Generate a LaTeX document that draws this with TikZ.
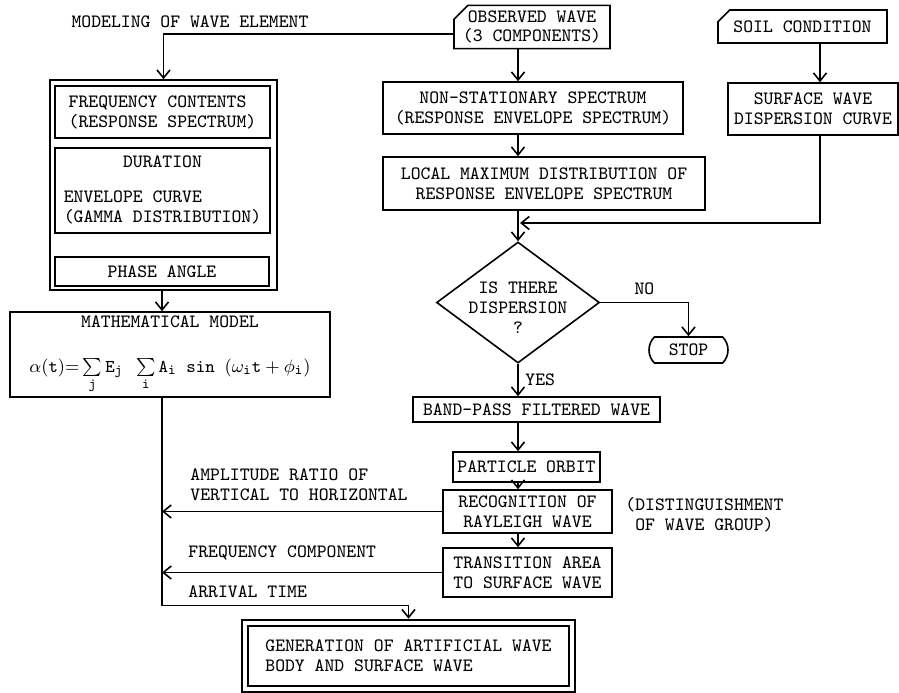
\documentclass[tikz,border=0pt]{standalone}
\usepackage{amsmath}
\usepackage{tikz}
\usetikzlibrary{positioning,arrows.meta}
\usetikzlibrary{shapes.geometric,shapes.misc}

\begin{document}
\begin{tikzpicture}[x=0.5pt,y=-0.5pt,>={Straight Barb[length=4pt,width=6.5pt]},line width=0.8pt,
  font=\fontsize{9.4pt}{10pt}\selectfont\ttfamily,
  box/.style={draw,rectangle,inner sep=0pt,align=center},
  card/.style={draw,chamfered rectangle,chamfered rectangle corners=north west,
    chamfered rectangle xsep=4pt,inner sep=0pt,align=center},
  decision/.style={draw,diamond,inner sep=0pt},
  stopbox/.style={draw,rounded rectangle,rounded rectangle arc length=90,inner sep=0pt}]
  \useasboundingbox (0,0) rectangle (899,692);
  \coordinate (axis) at (518,0);
  \coordinate (saxis) at (820,0);
  \coordinate (vline) at (162,0);

  % modeling of wave element
  \node (model) at (190,22) {MODELING OF WAVE ELEMENT};
  \node[box,minimum width=113.5pt,minimum height=105pt] (elem) at (163.5,185) {};
  \node[box,minimum width=107.5pt,minimum height=26pt,align=left] (freq) at (162.5,112)
    {FREQUENCY CONTENTS\\(RESPONSE SPECTRUM)};
  \node[box,minimum width=107.5pt,minimum height=42.5pt] (dur) at (162.5,190.5)
    {\begin{tabular}{@{}l@{}}\multicolumn{1}{@{}c@{}}{DURATION}\\[7.5pt]
     ENVELOPE CURVE\\(GAMMA DISTRIBUTION)\end{tabular}};
  \node[box,minimum width=107pt,minimum height=14.5pt] (phase) at (162,271.5) {PHASE ANGLE};
  \node[box,minimum width=160pt,minimum height=42.5pt] (math) at (170,354.5)
    {MATHEMATICAL MODEL\\[12.5pt]
     $\alpha(\mathtt{t})\mathtt{=}\sum\limits_{\mathtt{j}}\mathtt{E_j}\ \sum\limits_{\mathtt{i}}\mathtt{A_i}\
      \mathtt{sin}\ (\omega_{\mathtt{i}}\mathtt{t}+\phi_{\mathtt{i}})$};

  % observed wave column
  \node[card,minimum width=78pt,minimum height=17.5pt] (obs) at (532,27)
    {OBSERVED WAVE\\[-0.8pt](3 COMPONENTS)};
  \node[card,minimum width=84.5pt,minimum height=16.5pt] (soil) at (802.5,26.5) {SOIL CONDITION};
  \node[box,minimum width=150pt,minimum height=26pt] (nonstat) at (533,108)
    {NON-STATIONARY SPECTRUM\\(RESPONSE ENVELOPE SPECTRUM)};
  \node[box,minimum width=161pt,minimum height=26.5pt] (locmax) at (544,183.5)
    {LOCAL MAXIMUM DISTRIBUTION OF\\RESPONSE ENVELOPE SPECTRUM};
  \node[box,minimum width=85pt,minimum height=26pt] (surf) at (813,109)
    {SURFACE WAVE\\DISPERSION CURVE};
  \node[decision,minimum width=81.5pt,minimum height=60.5pt,
    label={[align=center,yshift=-2.75pt]center:{IS THERE\\DISPERSION\\?}}] (disp) at (518,302.5) {};
  \node[stopbox,minimum width=39.5pt,minimum height=13pt] (stop) at (688.5,350) {STOP};
  \node[box,minimum width=123.5pt,minimum height=12.5pt] (band) at (536.5,409.5) {BAND-PASS FILTERED WAVE};
  \node[box,minimum width=73.5pt,minimum height=15pt] (orbit) at (526.5,467) {PARTICLE ORBIT};
  \node[box,minimum width=84.5pt,minimum height=21.5pt] (recog) at (527.5,511.5)
    {RECOGNITION OF\\RAYLEIGH WAVE};
  \node[box,minimum width=84.5pt,minimum height=24.5pt] (trans) at (527.5,572.5)
    {TRANSITION AREA\\TO SURFACE WAVE};
  \node[anchor=west,align=left] (group) at (618,515) {(DISTINGUISHMENT\\\ OF WAVE GROUP)};

  % output side
  \node[anchor=west,align=left] (ratio) at (183,484.5) {AMPLITUDE RATIO OF\\VERTICAL TO HORIZONTAL};
  \node[anchor=west] (freqcomp) at (181,553) {FREQUENCY COMPONENT};
  \node[anchor=west] (arrival) at (181,592) {ARRIVAL TIME};
  \node[box,line width=0.7pt,double,double distance=2.2pt,minimum width=163.5pt,minimum height=33pt,
    align=left] (gen) at (408.5,656) {GENERATION OF ARTIFICIAL WAVE\\BODY AND SURFACE WAVE};

  \draw[->] ([yshift=-3.5pt]obs.west) -| (elem.north);
  \draw[->] (elem.south -| vline) -- (math.north -| vline);
  \draw[->] (obs.south -| axis) -- (nonstat.north -| axis);
  \draw[->] (nonstat.south -| axis) -- (locmax.north -| axis);
  \draw[->] (locmax.south -| axis) -- (disp.north);
  \draw[->] (soil.south -| saxis) -- (surf.north -| saxis);
  \coordinate (join) at (520,223);
  \draw[->] (surf.south -| saxis) |- (join);
  \draw[->] (disp.east) -| node[pos=0.25,above] (no) {NO} (stop.north);
  \draw[->] (disp.south) -- node[right] (yes) {YES} (band.north -| axis);
  \draw[->] (band.south -| axis) -- (orbit.north -| axis);
  \draw[->] (orbit.south -| axis) -- (recog.north -| axis);
  \draw[->] (recog.south -| axis) -- (trans.north -| axis);
  \draw[->] (recog.west) -- (recog.west -| vline);
  \draw[->] (trans.west) -- (trans.west -| vline);
  \draw[->,shorten >=1.8pt] (math.south -| vline) |- ([yshift=8.5pt]gen.north) -- (gen.north);
\end{tikzpicture}
\end{document}
